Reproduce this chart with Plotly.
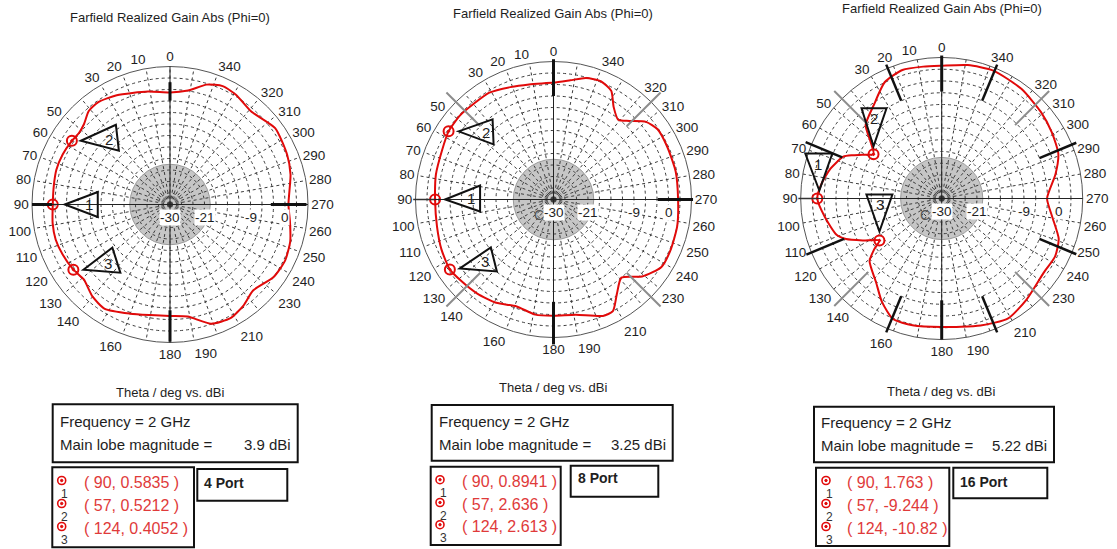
import math
import plotly.graph_objects as go

W, H = 1117, 549
R_MIN, R_MAX = -30, 6
FONT = "Liberation Sans, Arial, sans-serif"
RED = "#e10a0a"
TEXT = "#1e1e1e"

# ---------------- data ----------------
port_names = ["4 Port", "8 Port", "16 Port"]
frequency_ghz = 2
main_lobe_dbi = [3.9, 3.25, 5.22]

marker_theta = [90, 57, 124]
marker_gain = [
    [0.5835, 0.5212, 0.4052],
    [0.8941, 2.636, 2.613],
    [1.763, -9.244, -10.82],
]

# Realized gain cut (Phi = 0): theta in deg, gain in dBi
theta_4port = [0, 11, 26, 35, 41, 47, 52, 65, 73, 81, 99, 107, 115, 131, 140, 148,
               160, 170, 180, 189, 199, 208, 216, 224, 235, 244, 253, 262, 270, 284,
               293, 306, 319, 329, 336, 343, 351, 360]
gain_4port = [-0.8, 0.0, 1.7, 2.6, 2.3, 0.7, 0.2, 0.9, 1.0, 0.7, 1.0, 1.2, 0.9, -0.2, 1.4, 2.1,
              0.3, -0.7, -0.9, -0.4, 2.9, 3.6, 2.6, 1.2, 3.0, 3.4, 2.8, 1.6, 0.9, 2.4,
              3.2, 3.9, 2.2, 3.4, 3.8, 2.7, 0.1, -0.8]

theta_8port = [0, 12, 21, 31, 40, 48, 66, 78, 103, 114, 131, 141, 151, 161, 171, 180,
               191, 203, 208, 214, 221, 229, 238, 247, 258, 270, 283, 295, 304, 310,
               316, 321, 327, 332, 338, 345, 352, 360]
gain_8port = [0.5, 0.7, 1.4, 2.5, 2.5, 2.8, 1.8, 1.36, 1.2, 2.0, 2.15, 1.6, 0.8, -0.5, 0.4, 0.3,
              0.6, 3.0, 3.0, -0.4, -3.0, 0.6, 3.2, 3.25, 3.0, 2.5, 2.7, 2.7, 2.75, 1.5,
              -1.5, -3.2, -1.2, 2.1, 3.2, 2.8, 1.4, 0.5]

theta_16port = [0, 8, 17, 26, 36, 46, 51, 61, 64, 67, 75, 83, 99, 109, 113, 118, 127, 131,
                142, 150, 158, 167, 180, 197, 209, 220, 234, 243, 251, 261, 270, 282,
                291, 301, 311, 324, 338, 349, 360]
gain_16port = [3.9, 4.0, 4.3, 3.1, -0.5, -3.0, -6.5, -6.9, -4.8, -2.7, -0.6, 0.9, 0.2, -1.6,
               -3.5, -7.2, -8.4, -5.6, -2.8, 0.5, 3.2, 3.2, 2.8, 3.9, 5.0, 3.7, 2.2, 2.5,
               1.6, -1.5, -3.1, -0.3, 1.9, 2.8, 3.6, 4.6, 5.22, 4.7, 3.9]

curves = [(theta_4port, gain_4port), (theta_8port, gain_8port), (theta_16port, gain_16port)]

angular_ticks = list(range(0, 360, 10))
angular_hidden = [40, 150, 170, 200, 220, 330, 350]
radial_labels = [-30, -21, -9, 0]
radial_grid = list(range(-27, 6, 3))
shade_limit = -19.5

# port / lobe direction indicators: (theta, r_inner, r_outer, colour, width)
direction_lines = [
    [(0, -2.9, 1.9, "#111", 3), (90, 0.8, 6.0, "#111", 3),
     (180, -2.4, 5.8, "#111", 3), (270, -3.7, 5.6, "#111", 3)],
    [(0, -3.0, 6.6, "#111", 3), (180, -3.3, 7.8, "#111", 3), (270, -2.8, 6.4, "#111", 3),
     (90, 1.0, 6.6, "#333", 1.5),
     (45, -3.0, 9.5, "#8c8c8c", 2), (135, -3.0, 9.5, "#8c8c8c", 2),
     (225, -3.0, 9.5, "#8c8c8c", 2), (315, -3.0, 9.5, "#8c8c8c", 2)],
    [(0, -2.7, 6.5, "#111", 3), (180, -4.0, 6.0, "#111", 3),
     (22.5, -3.0, 7.0, "#111", 2.5), (67.5, -2.5, 7.6, "#111", 2.5),
     (112.5, -3.0, 7.4, "#111", 2.5), (157.5, -3.0, 7.0, "#111", 2.5),
     (202.5, -3.0, 7.0, "#111", 2.5), (247.5, -3.0, 7.2, "#111", 2.5),
     (292.5, -3.0, 7.2, "#111", 2.5), (337.5, -3.0, 7.0, "#111", 2.5),
     (90, 1.8, 6.6, "#333", 1.5),
     (45, -3.5, 8.8, "#8c8c8c", 2), (135, -3.5, 8.8, "#8c8c8c", 2),
     (225, -3.5, 8.8, "#8c8c8c", 2), (315, -3.5, 8.8, "#8c8c8c", 2)],
]

# ---------------- geometry (pixels) ----------------
geom = [(170.0, 204.5, 138.0), (553.5, 199.5, 138.0), (941.7, 198.5, 141.0)]

# marker callout triangles: apex, corner, corner, label (pixel offsets from the marker)
callouts = [
    [((12, 0), (45, -12.5), (45, 12.5), (36, 0)),
     ((9, 0), (44, -16), (47, 10), (37, -1)),
     ((10, 0), (39, -22), (47, 3), (35, -6))],
    [((10, 0), (45, -14), (45, 12), (36, -1)),
     ((10, 0), (44, -12), (45, 13), (37, 1)),
     ((10, -1), (41, -22), (47, 2), (35, -8))],
    [((2, -8), (-12, -45), (15, -45), (1, -34)),
     ((0, -8), (-12, -46), (13, -46), (0, -36)),
     ((0, -9), (-13, -46), (13, -46), (1, -36))],
]

panel_px = [
    dict(title=(170, 17), sub=(170, 392), fbox=(52.7, 404.3, 297.7, 462.3), fx=59.3,
         fy=(421.7, 444.0), fval=291.7, mbox=(52.3, 467.3, 194.0, 547.3),
         rows=(482.5, 505.5, 528.5), icon=61.7, mtext=83.3,
         pbox=(197.3, 469.0, 287.3, 500.7), ptext=(203.3, 483.3), mark_c=None),
    dict(title=(553.3, 14), sub=(553.3, 387), fbox=(431.7, 405.0, 672.7, 460.7), fx=438.0,
         fy=(421.7, 444.0), fval=666.7, mbox=(430.7, 466.7, 560.7, 545.0),
         rows=(481.7, 504.5, 526.7), icon=440.0, mtext=461.0,
         pbox=(570.7, 465.7, 658.3, 496.7), ptext=(576.7, 478.3), mark_c=(-14.7, 15)),
    dict(title=(941.7, 8.5), sub=(941.7, 391), fbox=(814.0, 406.7, 1054.0, 462.3), fx=820.0,
         fy=(422.7, 445.7), fval=1048.3, mbox=(816.0, 467.7, 949.3, 546.0),
         rows=(482.5, 505.5, 528.5), icon=826.0, mtext=846.0,
         pbox=(953.3, 467.7, 1047.3, 498.3), ptext=(959.3, 481.7), mark_c=(-16.7, 16.5)),
]


def to_px(i, theta, r):
    cx, cy, R = geom[i]
    rr = R * (r - R_MIN) / (R_MAX - R_MIN)
    t = math.radians(theta)
    return cx - rr * math.sin(t), cy - rr * math.cos(t)


def px_x(x):
    return x / W


def px_y(y):
    return 1 - y / H


shapes, annotations = [], []


def note(x, y, text, size=13, color=TEXT, xanchor="center", yanchor="middle", bg=None):
    annotations.append(dict(
        x=px_x(x), y=px_y(y), xref="paper", yref="paper", text=text, showarrow=False,
        xanchor=xanchor, yanchor=yanchor, borderpad=0,
        bgcolor=bg if bg else "rgba(0,0,0,0)",
        font=dict(family=FONT, size=size, color=color)))


def rect(x0, y0, x1, y1, width=2, color="#111"):
    shapes.append(dict(type="rect", xref="paper", yref="paper",
                       x0=px_x(x0), x1=px_x(x1), y0=px_y(y1), y1=px_y(y0),
                       line=dict(color=color, width=width), fillcolor="rgba(0,0,0,0)"))


def seg(x0, y0, x1, y1, width, color):
    shapes.append(dict(type="line", xref="paper", yref="paper",
                       x0=px_x(x0), y0=px_y(y0), x1=px_x(x1), y1=px_y(y1),
                       line=dict(color=color, width=width)))


def disc(x, y, rad, fill, line_color, line_width, layer="above"):
    shapes.append(dict(type="circle", xref="paper", yref="paper", layer=layer,
                       x0=px_x(x - rad), x1=px_x(x + rad), y0=px_y(y + rad), y1=px_y(y - rad),
                       fillcolor=fill, line=dict(color=line_color, width=line_width)))


fig = go.Figure()
angular_text = ["" if t in angular_hidden else str(t) for t in angular_ticks]
layout_polars = {}

for i in range(3):
    key = "polar" if i == 0 else f"polar{i + 1}"
    cx, cy, R = geom[i]

    th, g = curves[i]
    pts = sorted(list(zip(th, g)) + list(zip(marker_theta, marker_gain[i])))
    fig.add_trace(go.Scatterpolar(
        theta=[p[0] for p in pts], r=[p[1] for p in pts], mode="lines",
        line=dict(color=RED, width=2, shape="spline", smoothing=0.6),
        subplot=key, showlegend=False, hoverinfo="skip"))
    fig.add_trace(go.Scatterpolar(
        theta=marker_theta, r=marker_gain[i], mode="markers",
        marker=dict(symbol="circle-open-dot", size=10, color=RED, line=dict(width=2, color=RED)),
        subplot=key, showlegend=False))

    layout_polars[key] = dict(
        domain=dict(x=[(cx - R) / W, (cx + R) / W], y=[1 - (cy + R) / H, 1 - (cy - R) / H]),
        bgcolor="rgba(0,0,0,0)",
        radialaxis=dict(range=[R_MIN, R_MAX], tickmode="array", tickvals=radial_grid,
                        showticklabels=False, ticks="", showline=False,
                        gridcolor="#3c3c3c", griddash="3px,3px", gridwidth=1),
        angularaxis=dict(rotation=90, direction="counterclockwise", tickmode="array",
                         tickvals=angular_ticks, ticktext=angular_text,
                         showline=True, linecolor="#555", linewidth=1,
                         gridcolor="#3c3c3c", griddash="3px,3px", gridwidth=1,
                         ticks="", tickfont=dict(family=FONT, size=13.5, color=TEXT)),
    )

    # shaded low-level disc beneath the grid
    rr = R * (shade_limit - R_MIN) / (R_MAX - R_MIN)
    disc(cx, cy, rr, "#c6c6c6", "#9a9a9a", 1, layer="below")

    # axis cross
    seg(cx - R, cy, cx + R, cy, 1, "#222")
    seg(cx, cy - R, cx, cy + R, 1, "#222")

    # direction indicators
    for ang, r0, r1, col, w in direction_lines[i]:
        x0, y0 = to_px(i, ang, r0)
        x1, y1 = to_px(i, ang, r1)
        seg(x0, y0, x1, y1, w, col)

    # radial scale labels along theta = 270
    for v in radial_labels:
        x, _ = to_px(i, 270, v)
        note(x, cy + 13, str(v), size=13.5, bg="white")
    if panel_px[i]["mark_c"]:
        dx, dy = panel_px[i]["mark_c"]
        note(cx + dx, cy + dy, "C", size=14, color="#555")

    # callout triangles for the markers
    for k, (theta_m, g_m) in enumerate(zip(marker_theta, marker_gain[i])):
        mx, my = to_px(i, theta_m, g_m)
        a, b, c, lab = callouts[i][k]
        path = "M {:.5f},{:.5f} L {:.5f},{:.5f} L {:.5f},{:.5f} Z".format(
            px_x(mx + a[0]), px_y(my + a[1]), px_x(mx + b[0]), px_y(my + b[1]),
            px_x(mx + c[0]), px_y(my + c[1]))
        shapes.append(dict(type="path", xref="paper", yref="paper", path=path,
                           line=dict(color="#111", width=2), fillcolor="rgba(0,0,0,0)"))
        note(mx + lab[0], my + lab[1], str(k + 1), size=15)

    # titles and info boxes
    p = panel_px[i]
    note(*p["title"], "Farfield Realized Gain Abs (Phi=0)", size=13)
    note(*p["sub"], "Theta / deg vs. dBi", size=13)
    rect(*p["fbox"])
    note(p["fx"], p["fy"][0], f"Frequency = {frequency_ghz} GHz", size=15, xanchor="left")
    note(p["fx"], p["fy"][1], "Main lobe magnitude =", size=15, xanchor="left")
    note(p["fval"], p["fy"][1], f"{main_lobe_dbi[i]} dBi", size=15, xanchor="right")
    rect(*p["mbox"])
    for k, (theta_m, g_m) in enumerate(zip(marker_theta, marker_gain[i])):
        y = p["rows"][k]
        disc(p["icon"], y - 2, 4, "rgba(0,0,0,0)", RED, 1.6)
        disc(p["icon"], y - 2, 1.2, RED, RED, 1)
        note(p["icon"] + 3, y + 11, str(k + 1), size=12, color="#333")
        note(p["mtext"], y, f"( {theta_m}, {g_m:.4g} )", size=16, color="#e03a3a", xanchor="left")
    rect(*p["pbox"])
    note(p["ptext"][0], p["ptext"][1], f"<b>{port_names[i]}</b>", size=14, xanchor="left")

fig.update_layout(
    width=W, height=H, margin=dict(l=0, r=0, t=0, b=0),
    paper_bgcolor="white", plot_bgcolor="white", template="none",
    showlegend=False, shapes=shapes, annotations=annotations,
    **layout_polars,
)

fig.write_html("out.html")
